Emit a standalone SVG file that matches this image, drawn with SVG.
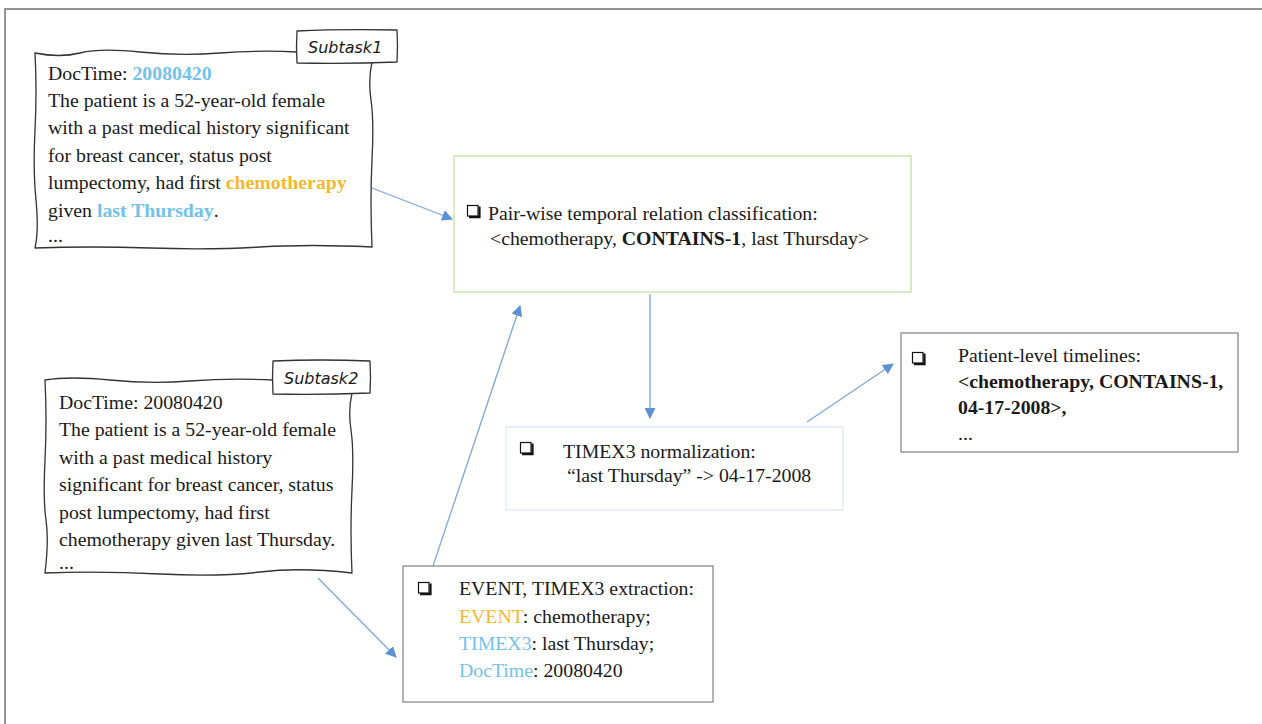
<svg xmlns="http://www.w3.org/2000/svg" xmlns:xlink="http://www.w3.org/1999/xlink" width="1262" height="724" viewBox="0 0 1262 724">
  <style>
    .t { font-family: "Liberation Serif", "Times New Roman", serif; font-size: 19.8px; fill: #1a1a1a; }
    .b { font-weight: bold; }
    .blue { fill: #72c2ea; }
    .orange { fill: #f4b92f; }
    .tag { font-family: "DejaVu Sans", "Liberation Sans", sans-serif; font-style: italic; font-size: 16px; fill: #1a1a1a; }
    .sketch { fill: #ffffff; stroke: #333333; stroke-width: 1.3; stroke-linejoin: round; }
    .box { fill: #ffffff; stroke-width: 1.3; }
    .edge { stroke: #7ea8dc; stroke-width: 1.3; fill: none; marker-end: url(#arrow); }
  </style>
  <defs>
    <marker id="arrow" viewBox="0 0 10 10" refX="9" refY="5" markerWidth="11" markerHeight="11" markerUnits="userSpaceOnUse" orient="auto">
      <path d="M0,0 L10,5 L0,10 z" fill="#5d91d6"/>
    </marker>
    <!-- shadowed checkbox bullet -->
    <g id="chk">
      <rect x="0.5" y="0.5" width="10.5" height="10.5" fill="#ffffff" stroke="#111111" stroke-width="1.2"/>
      <path d="M2,12.2 H12.5 V1.5" fill="none" stroke="#111111" stroke-width="2.2"/>
    </g>
  </defs>

  <!-- outer frame -->
  <rect x="5" y="9" width="1300" height="800" fill="none" stroke="#7a7a7a" stroke-width="1.6"/>

  <!-- connectors -->
  <g id="connectors">
    <line class="edge" x1="372" y1="188" x2="452" y2="219"/>
    <line class="edge" x1="433" y1="566" x2="520" y2="306"/>
    <line class="edge" x1="650" y1="294" x2="650" y2="418"/>
    <line class="edge" x1="807" y1="422" x2="893" y2="364"/>
    <line class="edge" x1="318" y1="578" x2="396" y2="657"/>
  </g>

  <!-- Subtask1 note -->
  <g id="subtask1">
    <path class="sketch" d="M297,52 Q260,50 220,53 T140,52 T80,53 T35,53 Q37,90 35,130 T36,200 T35,248 Q90,246 150,248 T260,247 T372,247 Q370,200 372,160 T371,100 T372,62"/>
    <path class="sketch" d="M297,31 Q340,29 397,30 Q398,46 397,62 Q350,64 297,63 Q296,46 297,31 z"/>
    <text class="tag" x="308" y="53">Subtask1</text>
    <text class="t" x="48" y="80">DocTime: <tspan class="b blue">20080420</tspan></text>
    <text class="t" x="48" y="107">The patient is a 52-year-old female</text>
    <text class="t" x="48" y="134">with a past medical history significant</text>
    <text class="t" x="48" y="162">for breast cancer, status post</text>
    <text class="t" x="48" y="189">lumpectomy, had first <tspan class="b orange">chemotherapy</tspan></text>
    <text class="t" x="48" y="217">given <tspan class="b blue">last Thursday</tspan>.</text>
    <text class="t" x="48" y="242">...</text>
  </g>

  <!-- Subtask2 note -->
  <g id="subtask2">
    <path class="sketch" d="M273,380 Q230,378 190,381 T110,380 T45,380 Q47,420 45,460 T46,520 T45,573 Q100,571 160,574 T260,572 T352,573 Q350,530 352,490 T351,430 T352,393"/>
    <path class="sketch" d="M273,361 Q320,359 370,361 Q371,377 370,393 Q320,395 273,394 Q272,377 273,361 z"/>
    <text class="tag" x="284" y="384">Subtask2</text>
    <text class="t" x="59" y="409">DocTime: 20080420</text>
    <text class="t" x="59" y="436">The patient is a 52-year-old female</text>
    <text class="t" x="59" y="464">with a past medical history</text>
    <text class="t" x="59" y="491">significant for breast cancer, status</text>
    <text class="t" x="59" y="519">post lumpectomy, had first</text>
    <text class="t" x="59" y="546">chemotherapy given last Thursday.</text>
    <text class="t" x="59" y="569">...</text>
  </g>

  <!-- Pair-wise classification -->
  <g id="pairwise">
    <rect class="box" x="454" y="156" width="457" height="136" stroke="#c6e2a6"/>
    <use xlink:href="#chk" x="467" y="205"/>
    <text class="t" x="488" y="220">Pair-wise temporal relation classification:</text>
    <text class="t" x="490" y="245">&lt;chemotherapy, <tspan class="b">CONTAINS-1</tspan>, last Thursday&gt;</text>
  </g>

  <!-- TIMEX3 normalization -->
  <g id="normalization">
    <rect class="box" x="506" y="427" width="337" height="83" stroke="#dde9f6"/>
    <use xlink:href="#chk" x="520" y="442"/>
    <text class="t" x="563" y="458">TIMEX3 normalization:</text>
    <text class="t" x="567" y="482">“last Thursday” -&gt; 04-17-2008</text>
  </g>

  <!-- Patient-level timelines -->
  <g id="timelines">
    <rect class="box" x="901" y="333" width="337" height="119" stroke="#8a8a8a"/>
    <use xlink:href="#chk" x="912" y="352"/>
    <text class="t" x="958" y="362">Patient-level timelines:</text>
    <text class="t b" x="958" y="388">&lt;chemotherapy, CONTAINS-1,</text>
    <text class="t b" x="958" y="414">04-17-2008&gt;,</text>
    <text class="t" x="958" y="440">...</text>
  </g>

  <!-- EVENT / TIMEX3 extraction -->
  <g id="extraction">
    <rect class="box" x="403" y="566" width="310" height="136" stroke="#8a8a8a"/>
    <use xlink:href="#chk" x="418" y="582"/>
    <text class="t" x="459" y="595">EVENT, TIMEX3 extraction:</text>
    <text class="t" x="459" y="623"><tspan class="orange">EVENT</tspan>: chemotherapy;</text>
    <text class="t" x="459" y="650"><tspan class="blue">TIMEX3</tspan>: last Thursday;</text>
    <text class="t" x="459" y="677"><tspan class="blue">DocTime</tspan>: 20080420</text>
  </g>
</svg>
